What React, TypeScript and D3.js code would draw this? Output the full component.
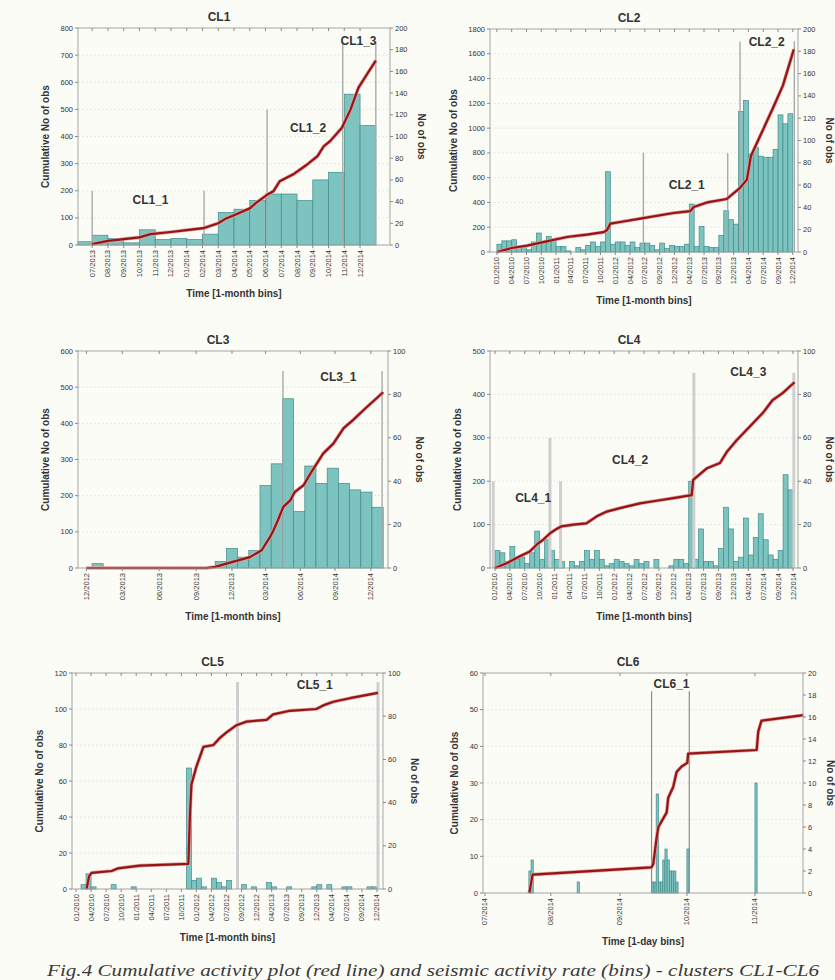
import React from "react";
import * as d3 from "d3";

type Pair = [number, number];
type Seg = [string, number, number];

const W = 835;
const H = 980;

// ---- CL1 : 1-month bins, bin 0 = 06/2013
const cl1Ticks = ["07/2013", "08/2013", "09/2013", "10/2013", "11/2013", "12/2013", "01/2014", "02/2014", "03/2014",
  "04/2014", "05/2014", "06/2014", "07/2014", "08/2014", "09/2014", "10/2014", "11/2014", "12/2014"];
const cl1Rate = [3, 9, 6, 2, 14, 5, 6, 5, 10, 30, 33, 41, 47, 47, 41, 60, 67, 139, 110];
const cl1Cum: Pair[] = [[1, 3], [2, 15], [3, 22], [4, 28], [4.7, 40], [6, 48], [7, 55], [8.05, 62], [9, 80], [9.5, 98],
  [10, 110], [11, 135], [11.4, 155], [12.1, 185], [12.5, 198], [12.9, 235], [13.8, 262], [14.6, 295], [15.3, 328],
  [15.7, 364], [16.1, 383], [16.85, 432], [17.4, 500], [17.9, 580], [18.5, 635], [19, 680]];
const cl1Bounds: Pair[] = [[1, 200], [8.1, 200], [12.1, 500], [16.9, 750], [19, 750]];
const cl1Segs: Seg[] = [["CL1_1", 4.7, 166], ["CL1_2", 14.7, 430], ["CL1_3", 17.9, 753]];

// ---- CL2, CL4, CL5 : 1-month bins from 01/2010 (60 bins)
const ticks2010 = ["01/2010", "04/2010", "07/2010", "10/2010", "01/2011", "04/2011", "07/2011", "10/2011", "01/2012",
  "04/2012", "07/2012", "09/2012", "12/2012", "04/2013", "07/2013", "09/2013", "12/2013", "04/2014", "07/2014",
  "09/2014", "12/2014"];

const cl2Rate = [7, 10, 10, 11, 5, 4, 2, 9, 17, 9, 14, 11,
  5, 5, 1, 0, 4, 2, 6, 9, 5, 9, 72, 7,
  9, 9, 6, 9, 4, 8, 8, 6, 2, 8, 3, 6,
  5, 5, 7, 43, 5, 23, 5, 4, 4, 15, 37, 29,
  25, 126, 136, 88, 94, 86, 85, 85, 92, 123, 115, 124];
const cl2Cum: Pair[] = [[0, 0], [3, 32], [6.1, 51], [10.1, 86], [14.2, 121], [18.2, 140], [21.6, 160], [22.3, 175],
  [23, 229], [25, 242], [29.7, 274], [35.8, 315], [39.2, 330], [39.9, 363], [42.6, 400], [46.6, 428], [49.3, 518],
  [50.7, 584], [51.5, 775], [53.3, 930], [56, 1165], [58, 1345], [60.2, 1635]];
const cl2Bounds: Pair[] = [[29.7, 800], [46.8, 800], [49.3, 1700], [60.3, 1700]];
const cl2Segs: Seg[] = [["CL2_1", 38.5, 543], ["CL2_2", 54.7, 1692]];

// ---- CL3 : 1-month bins, bin 0 starts just after the 12/2012 tick
const cl3Ticks = ["12/2012", "03/2013", "06/2013", "09/2013", "12/2013", "03/2014", "06/2014", "09/2014", "12/2014"];
const cl3TickPos = [-0.5, 2.7, 6, 9.3, 12.5, 15.5, 18.6, 21.7, 24.9];
const cl3Rate = [2, 0, 0, 0, 0, 0, 0, 0, 0, 0, 0,
  3, 9, 5, 8, 38, 48, 78, 26, 47, 39, 46, 39, 36, 35, 28];
const cl3Cum: Pair[] = [[-0.5, 0], [10.2, 0], [11, 3], [12, 12], [14.1, 30], [15.15, 49], [15.9, 86], [16.2, 104],
  [16.6, 132], [17.08, 169], [17.7, 187], [18.1, 210], [18.9, 229], [19.6, 266], [20.65, 317], [21.55, 344],
  [22.45, 386], [23.3, 409], [24.4, 441], [26, 486]];
const cl3Bounds: Pair[] = [[17.05, 545], [25.9, 545]];
const cl3Segs: Seg[] = [["CL3_1", 22, 529]];

const cl4Rate = [8, 7, 3, 10, 4, 5, 2, 7, 17, 4, 13,
  8, 4, 3, 0, 3, 1, 3, 8, 4, 8,
  4, 1, 2, 4, 3, 2, 1, 4, 2, 3,
  0, 4, 0, 0, 1, 4, 4, 2, 40, 4,
  18, 3, 3, 1, 9, 28, 18, 3, 5, 23,
  6, 14, 25, 13, 6, 4, 8, 43, 36];
const cl4Cum: Pair[] = [[0, 0], [2.35, 11], [5, 27], [7, 38], [8.7, 57], [9.7, 65], [11.1, 80], [12.4, 90], [13.4, 96],
  [15.8, 100], [18.4, 103], [20.5, 119], [22.5, 130], [25.2, 138], [29.2, 149], [32.5, 155], [35.9, 161], [39.6, 168],
  [39.9, 203], [42.7, 230], [45.3, 242], [46.7, 268], [48.7, 295], [51.3, 326], [53.9, 357], [55.9, 387],
  [57.9, 403], [60.3, 428]];
const cl4Bounds: Pair[] = [[-0.35, 200], [11.07, 300], [13.2, 200], [40.04, 450], [60.16, 450]];
const cl4Segs: Seg[] = [["CL4_1", 7.7, 161], ["CL4_2", 27.2, 249], ["CL4_3", 51, 452]];

const cl5Rate: Pair[] = [[1, 2], [2, 7], [3, 1], [7, 2], [11, 1], [22, 56], [23, 4], [24, 5], [25, 1], [27, 5], [28, 3],
  [29, 1], [30, 4], [33, 2], [35, 1], [38, 3], [39, 1], [42, 1], [47, 1], [48, 2], [50, 2], [53, 1], [54, 1], [58, 1],
  [59, 1]];
const cl5Cum: Pair[] = [[2.1, 0], [2.6, 7], [3.1, 9], [7.1, 10], [8.4, 11.5], [12.75, 13], [22.4, 14], [22.7, 40],
  [23, 58], [24, 68], [25.4, 79], [27.4, 80], [28.7, 84], [30, 87], [32, 91], [34, 93], [38, 94], [39.3, 97],
  [42.6, 99], [47.9, 100], [49.3, 102], [51.3, 104], [54.6, 106], [60.2, 109]];
const cl5Bounds: Pair[] = [[32.2, 115], [60.2, 115]];
const cl5Segs: Seg[] = [["CL5_1", 47.6, 113.5]];

// ---- CL6 : 1-day bins, day 0 = first tick
const cl6Ticks = ["07/2014", "08/2014", "09/2014", "10/2014", "11/2014"];
const cl6TickPos = [0, 30, 61.5, 92, 123];
const cl6Rate: Pair[] = [[20, 2], [21, 3], [42, 1], [76, 1], [77, 1], [78, 9], [79, 1], [80, 1], [81, 3], [82, 4],
  [83, 3], [84, 2], [85, 2], [86, 2], [87, 1], [92, 4], [123, 10]];
const cl6Cum: Pair[] = [[20.2, 0], [21.7, 5], [75.9, 7], [76.7, 8], [78.2, 15], [79, 18], [82.8, 22], [83.5, 26],
  [85.8, 29], [87.3, 33], [89.6, 34.5], [92.2, 35.5], [92.6, 38], [123.8, 39], [124.5, 44], [126, 47], [145, 48.5]];
const cl6Bounds: Pair[] = [[75.9, 55], [93.1, 55]];
const cl6Segs: Seg[] = [["CL6_1", 85, 57]];

const caption = "Fig.4 Cumulative activity plot (red line) and seismic activity rate (bins) - clusters CL1-CL6";

interface PanelSpec {
  title: string;
  box: { x: number; y: number; w: number; h: number };
  xDomain: [number, number];
  tickPos: number[];
  tickLabels: string[];
  left: [number, number];
  right: [number, number];
  rate: Pair[];
  cum: Pair[];
  bounds: Pair[];
  segs: Seg[];
  xTitle: string;
  bound: { w: number; c: string };
}

const dense = (vals: number[]): Pair[] => vals.map((v, i) => [i, v] as Pair);
const every3 = (labels: string[]) => labels.map((_, i) => i * 3);

const thin = { w: 1.4, c: "#a9a9a9" };
const thick = { w: 3, c: "#cfcfcf" };
const month = "Time [1-month bins]";

const panels: PanelSpec[] = [
  { title: "CL1", box: { x: 78, y: 28, w: 312, h: 217 }, xDomain: [0.1, 19.9], tickPos: cl1Ticks.map((_, i) => i + 1),
    tickLabels: cl1Ticks, left: [800, 100], right: [200, 20], rate: dense(cl1Rate), cum: cl1Cum, bounds: cl1Bounds,
    segs: cl1Segs, xTitle: month, bound: thin },
  { title: "CL2", box: { x: 490, y: 29, w: 308, h: 223 }, xDomain: [-1.4, 61.05], tickPos: every3(ticks2010),
    tickLabels: ticks2010, left: [1800, 200], right: [200, 20], rate: dense(cl2Rate), cum: cl2Cum, bounds: cl2Bounds,
    segs: cl2Segs, xTitle: month, bound: thin },
  { title: "CL3", box: { x: 78, y: 351, w: 310, h: 217 }, xDomain: [-1.25, 26.43], tickPos: cl3TickPos,
    tickLabels: cl3Ticks, left: [600, 100], right: [100, 20], rate: dense(cl3Rate), cum: cl3Cum, bounds: cl3Bounds,
    segs: cl3Segs, xTitle: month, bound: thin },
  { title: "CL4", box: { x: 490, y: 351, w: 308, h: 217 }, xDomain: [-1, 61], tickPos: every3(ticks2010),
    tickLabels: ticks2010, left: [500, 100], right: [100, 20], rate: dense(cl4Rate), cum: cl4Cum, bounds: cl4Bounds,
    segs: cl4Segs, xTitle: month, bound: thick },
  { title: "CL5", box: { x: 72, y: 673, w: 311, h: 216 }, xDomain: [-0.8, 61.2], tickPos: every3(ticks2010),
    tickLabels: ticks2010, left: [120, 20], right: [100, 20], rate: cl5Rate, cum: cl5Cum, bounds: cl5Bounds,
    segs: cl5Segs, xTitle: month, bound: thick },
  { title: "CL6", box: { x: 483, y: 673, w: 320, h: 220 }, xDomain: [-0.9, 144.9], tickPos: cl6TickPos,
    tickLabels: cl6Ticks, left: [60, 10], right: [20, 2], rate: cl6Rate, cum: cl6Cum, bounds: cl6Bounds,
    segs: cl6Segs, xTitle: "Time [1-day bins]", bound: { w: 1.2, c: "#8c8c8c" } },
];

const SANS = "'Liberation Sans', Arial, sans-serif";
const INK = "#333";

function Panel({ p }: { p: PanelSpec }) {
  const { x: L, y: T, w, h } = p.box;
  const R = L + w;
  const B = T + h;
  const x = d3.scaleLinear().domain(p.xDomain).range([L, R]);
  const yl = d3.scaleLinear().domain([0, p.left[0]]).range([B, T]);
  const yr = d3.scaleLinear().domain([0, p.right[0]]).range([B, T]);
  const lt = d3.range(0, p.left[0] + p.left[1] / 2, p.left[1]);
  const rt = d3.range(0, p.right[0] + p.right[1] / 2, p.right[1]);
  const line = d3.line<Pair>().x((d) => x(d[0])).y((d) => yl(d[1]));
  const [d0, d1] = p.xDomain;
  const lDigits = String(p.left[0]).length;
  const rDigits = String(p.right[0]).length;

  return (
    <g>
      <text x={(L + R) / 2 - 15} y={T - 7} textAnchor="middle" fontFamily={SANS} fontWeight="bold" fontSize={12} fill={INK}>
        {p.title}
      </text>

      {lt.slice(1, -1).map((t) => (
        <line key={"g" + t} x1={L} x2={R} y1={yl(t)} y2={yl(t)} stroke="#dde6dd" strokeWidth={0.8} strokeDasharray="2,2" />
      ))}

      {p.rate.filter((d) => d[1] > 0).map(([k, v]) => {
        const a = x(Math.max(k, d0));
        const b = x(Math.min(k + 1, d1));
        return (
          <rect key={"b" + k} x={a} y={yr(v)} width={b - a} height={yr(0) - yr(v)}
            fill="#7dc4c0" stroke="#3f8c89" strokeWidth={0.7} />
        );
      })}

      {p.bounds.map(([k, v], i) => (
        <line key={"v" + i} x1={x(k)} x2={x(k)} y1={B} y2={yl(v)} stroke={p.bound.c} strokeWidth={p.bound.w} />
      ))}

      <path d={line(p.cum) || ""} fill="none" stroke="#e3a0a0" strokeWidth={3.6} strokeLinejoin="round" />
      <path d={line(p.cum) || ""} fill="none" stroke="#951414" strokeWidth={2.2} strokeLinejoin="round" />

      {p.segs.map(([s, k, v]) => (
        <text key={s} x={x(k)} y={yl(v)} textAnchor="middle" dominantBaseline="central" fontFamily={SANS}
          fontWeight="bold" fontSize={12} fill={INK}>
          {s}
        </text>
      ))}

      <rect x={L} y={T} width={w} height={h} fill="none" stroke="#a3a3a3" strokeWidth={1} />

      {lt.map((t) => (
        <g key={"l" + t}>
          <line x1={L - 3} x2={L} y1={yl(t)} y2={yl(t)} stroke="#888" />
          <text x={L - 5} y={yl(t)} textAnchor="end" dominantBaseline="central" fontFamily={SANS} fontSize={7.5} fill={INK}>
            {t}
          </text>
        </g>
      ))}
      {rt.map((t) => (
        <g key={"r" + t}>
          <line x1={R} x2={R + 3} y1={yr(t)} y2={yr(t)} stroke="#888" />
          <text x={R + 5} y={yr(t)} dominantBaseline="central" fontFamily={SANS} fontSize={7.5} fill={INK}>
            {t}
          </text>
        </g>
      ))}
      {p.tickPos.map((t, i) => (
        <g key={"x" + i}>
          <line x1={x(t)} x2={x(t)} y1={B} y2={B + 3} stroke="#888" />
          <line x1={x(t)} x2={x(t)} y1={T} y2={T + 3} stroke="#888" />
          <text transform={`translate(${x(t)},${B + 5}) rotate(-90)`} textAnchor="end" dominantBaseline="central"
            fontFamily={SANS} fontSize={7.5} fill={INK}>
            {p.tickLabels[i]}
          </text>
        </g>
      ))}

      <text transform={`translate(${L - (lDigits * 4 + 17)},${(T + B) / 2}) rotate(-90)`} textAnchor="middle"
        fontFamily={SANS} fontWeight="bold" fontSize={10} fill={INK}>
        Cumulative No of obs
      </text>
      <text transform={`translate(${R + (rDigits * 4 + 16)},${(T + B) / 2}) rotate(90)`} textAnchor="middle"
        fontFamily={SANS} fontWeight="bold" fontSize={10} fill={INK}>
        No of obs
      </text>
      <text x={(L + R) / 2} y={B + 52} textAnchor="middle" fontFamily={SANS} fontWeight="bold" fontSize={10} fill={INK}>
        {p.xTitle}
      </text>
    </g>
  );
}

export default function App() {
  return (
    <svg width={W} height={H} style={{ position: "absolute", left: 0, top: 0 }}>
      <rect width={W} height={H} fill="#fcfcf7" />
      {panels.map((p) => (
        <Panel key={p.title} p={p} />
      ))}
      <text x={433} y={976} textAnchor="middle" fontFamily="'Liberation Serif', 'Times New Roman', serif"
        fontStyle="italic" fontSize={16} fill="#3a3a3a" textLength={772} lengthAdjust="spacingAndGlyphs">
        {caption}
      </text>
    </svg>
  );
}
